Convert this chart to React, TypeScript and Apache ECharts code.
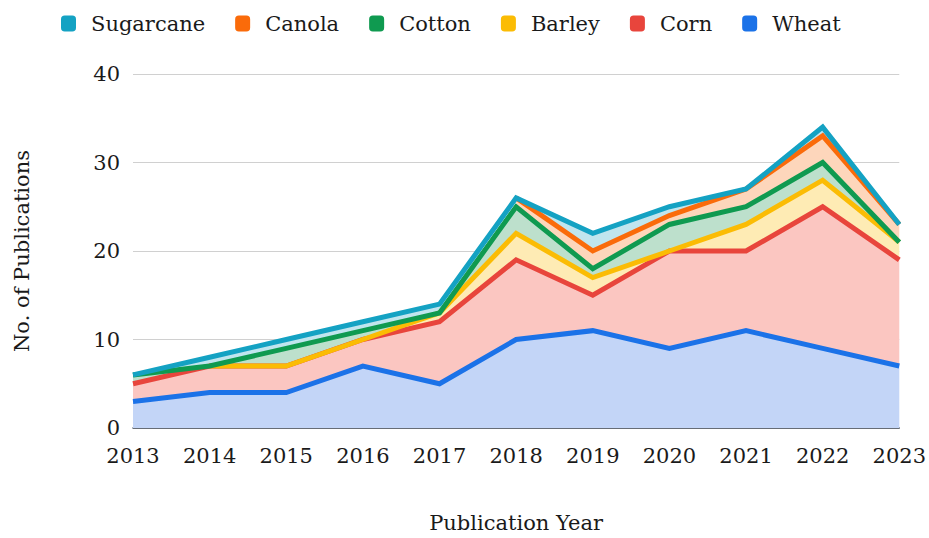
import React, { useEffect, useRef } from "react";
import * as echarts from "echarts";

const years = ["2013", "2014", "2015", "2016", "2017", "2018", "2019", "2020", "2021", "2022", "2023"];
const wheat = [3, 4, 4, 7, 5, 10, 11, 9, 11, 9, 7];
const corn = [2, 3, 3, 3, 7, 9, 4, 11, 9, 16, 12];
const barley = [null, 0, 0, 0, 1, 3, 2, 0, 3, 3, 2];
const cotton = [1, 0, 2, 1, 0, 3, 1, 3, 2, 2, 0];
const canola = [null, null, null, null, null, 1, 2, 1, 2, 3, 2];
const sugarcane = [0, 1, 1, 1, 1, 0, 2, 1, 0, 1, 0];

const yTicks = [0, 10, 20, 30, 40];
const legendOrder = ["Sugarcane", "Canola", "Cotton", "Barley", "Corn", "Wheat"];

const seriesDefs = [
  { name: "Wheat", data: wheat, line: "#1b72e8", fill: "#c3d5f7" },
  { name: "Corn", data: corn, line: "#e8453c", fill: "#fbc6c1" },
  { name: "Barley", data: barley, line: "#fbbc04", fill: "#feebb4" },
  { name: "Cotton", data: cotton, line: "#0f9a50", fill: "#bde0cc" },
  { name: "Canola", data: canola, line: "#fa6b0a", fill: "#fdd6bb" },
  { name: "Sugarcane", data: sugarcane, line: "#14a2c3", fill: "#c0e5ee" },
];

const FONT = "DejaVu Serif";

export default function App() {
  const ref = useRef<HTMLDivElement>(null);
  useEffect(() => {
    document.body.style.margin = "0";
    const chart = echarts.init(ref.current!, null, { renderer: "svg" });
    const areaSeries = seriesDefs.map((s) => ({
      name: s.name,
      type: "line",
      stack: "areas",
      data: s.data.map((v) => (v === null ? "-" : v)),
      symbol: "none",
      showSymbol: false,
      z: 2,
      itemStyle: { color: s.line },
      lineStyle: { width: 0, opacity: 0 },
      areaStyle: { color: s.fill, opacity: 1 },
    }));
    const lineSeries = seriesDefs.map((s) => ({
      name: s.name,
      type: "line",
      stack: "lines",
      data: s.data.map((v) => (v === null ? "-" : v)),
      symbol: "none",
      showSymbol: false,
      z: 3,
      itemStyle: { color: s.line },
      lineStyle: { width: 5, color: s.line, join: "miter" },
    }));
    chart.setOption({
      animation: false,
      textStyle: { fontFamily: FONT },
      legend: {
        left: 61,
        top: 13,
        padding: 0,
        icon: "roundRect",
        itemWidth: 15,
        itemHeight: 16,
        itemGap: 30,
        textStyle: { fontFamily: FONT, fontSize: 21, color: "#1a1a1a", padding: [0, 0, 0, 10] },
        data: legendOrder.map((n) => ({
          name: n,
          itemStyle: { color: seriesDefs.find((s) => s.name === n)!.line },
        })),
      },
      grid: { left: 133, right: 29, top: 74, bottom: 110, containLabel: false },
      xAxis: {
        type: "category",
        data: years,
        boundaryGap: false,
        axisLine: { lineStyle: { color: "#444c58", width: 1.5 } },
        axisTick: { show: false },
        axisLabel: { fontFamily: FONT, fontSize: 21, color: "#1a1a1a", margin: 17 },
        name: "Publication Year",
        nameLocation: "middle",
        nameGap: 84,
        nameTextStyle: { fontFamily: FONT, fontSize: 21, color: "#1a1a1a" },
      },
      yAxis: {
        type: "value",
        min: yTicks[0],
        max: yTicks[yTicks.length - 1],
        interval: 10,
        axisLine: { show: false },
        axisTick: { show: false },
        splitLine: { lineStyle: { color: "#d0d0d0", width: 1 } },
        axisLabel: { fontFamily: FONT, fontSize: 21, color: "#1a1a1a", margin: 13 },
        name: "No. of Publications",
        nameLocation: "middle",
        nameGap: 101,
        nameTextStyle: { fontFamily: FONT, fontSize: 21, color: "#1a1a1a" },
      },
      series: [...areaSeries, ...lineSeries],
    });
    return () => chart.dispose();
  }, []);
  return <div ref={ref} style={{ width: 929, height: 538 }} />;
}
